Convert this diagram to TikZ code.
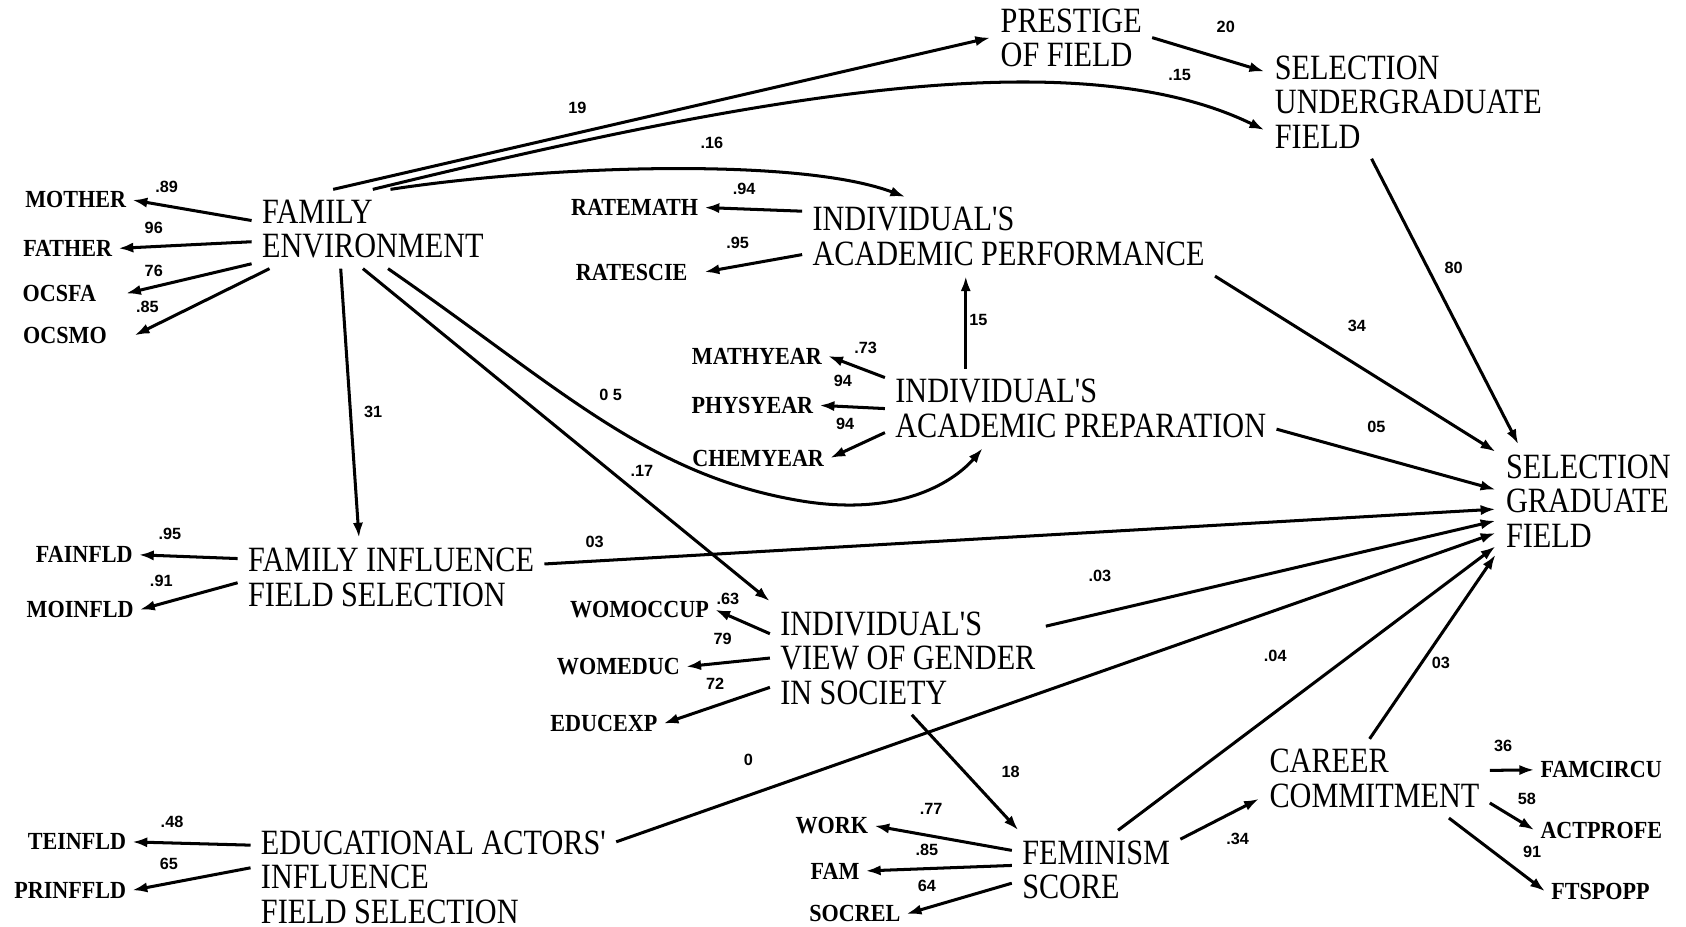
\documentclass[tikz,border=0pt]{standalone}
\usepackage{fontspec}
\setmainfont{Liberation Serif}
\newfontfamily\boxfont[FakeStretch=0.85]{Liberation Serif}
\newfontfamily\indfont[FakeStretch=0.9]{Liberation Serif}
\newfontfamily\coeffont{Liberation Sans}
\usetikzlibrary{arrows.meta}

\begin{document}
\begin{tikzpicture}[
    x=0.01cm, y=-0.01cm,
    latent/.style={
        font=\boxfont\fontsize{9.4}{9.1}\selectfont,
        align=left,
        inner sep=0.9mm,
        anchor=west
    },
    indicator/.style={
        font=\indfont\bfseries\fontsize{6.5}{7}\selectfont,
        inner sep=0.5mm,
        anchor=east
    },
    coef/.style={
        font=\coeffont\bfseries\fontsize{4.3}{5}\selectfont,
        inner sep=0pt
    },
    arrow/.style={-{Latex[length=1.4mm,width=0.95mm]}, line width=0.8pt}
]
    \useasboundingbox (0,0) rectangle (1568,862);

    % latent constructs
    \node[latent] (famenv) at (234,213) {FAMILY\\ENVIRONMENT};
    \node[latent] (prestige) at (921,35) {PRESTIGE\\OF FIELD};
    \node[latent] (selug) at (1176,95) {SELECTION\\UNDERGRADUATE\\FIELD};
    \node[latent] (acperf) at (746,220) {INDIVIDUAL'S\\ACADEMIC PERFORMANCE};
    \node[latent] (acprep) at (823,380) {INDIVIDUAL'S\\ACADEMIC PREPARATION};
    \node[latent] (selgrad) at (1391,466) {SELECTION\\GRADUATE\\FIELD};
    \node[latent] (faminfl) at (221,537) {FAMILY INFLUENCE\\FIELD SELECTION};
    \node[latent] (gender) at (716,612) {INDIVIDUAL'S\\VIEW OF GENDER\\IN SOCIETY};
    \node[latent] (eduact) at (233,816) {EDUCATIONAL ACTORS'\\INFLUENCE\\FIELD SELECTION};
    \node[latent] (feminism) at (941,809) {FEMINISM\\SCORE};
    \node[latent] (career) at (1171,724) {CAREER\\COMMITMENT};

    % measured items
    \node[indicator] (mother) at (123,186) {MOTHER};
    \node[indicator] (father) at (110,231) {FATHER};
    \node[indicator] (ocsfa) at (95,273) {OCSFA};
    \node[indicator] (ocsmo) at (105,312) {OCSMO};
    \node[indicator] (ratemath) at (655,193) {RATEMATH};
    \node[indicator] (ratescie) at (645,253) {RATESCIE};
    \node[indicator] (mathyear) at (770,331) {MATHYEAR};
    \node[indicator] (physyear) at (762,377) {PHYSYEAR};
    \node[indicator] (chemyear) at (772,426) {CHEMYEAR};
    \node[indicator] (fainfld) at (129,516) {FAINFLD};
    \node[indicator] (moinfld) at (130,567) {MOINFLD};
    \node[indicator] (womoccup) at (665,567) {WOMOCCUP};
    \node[indicator] (womeduc) at (638,620) {WOMEDUC};
    \node[indicator] (educexp) at (617,673) {EDUCEXP};
    \node[indicator] (teinfld) at (123,783) {TEINFLD};
    \node[indicator] (prinffld) at (123,828) {PRINFFLD};
    \node[indicator] (work) at (813,768) {WORK};
    \node[indicator] (fam) at (805,810) {FAM};
    \node[indicator] (socrel) at (843,850) {SOCREL};
    \node[indicator, anchor=west] (famcircu) at (1427,716) {FAMCIRCU};
    \node[indicator, anchor=west] (actprofe) at (1427,772) {ACTPROFE};
    \node[indicator, anchor=west] (ftspopp) at (1437,829) {FTSPOPP};

    % path coefficients
    \node[coef] (c89) at (155,174) {.89};
    \node[coef] (c96) at (143,212) {96};
    \node[coef] (c76) at (143,252) {76};
    \node[coef] (c85a) at (137,285) {.85};
    \node[coef] (c19) at (537,100) {19};
    \node[coef] (c16) at (662,133) {.16};
    \node[coef] (c20) at (1140,25) {20};
    \node[coef] (c15a) at (1097,70) {.15};
    \node[coef] (c94a) at (692,176) {.94};
    \node[coef] (c95a) at (686,226) {.95};
    \node[coef] (c80) at (1352,249) {80};
    \node[coef] (c34a) at (1262,303) {34};
    \node[coef] (c15b) at (910,298) {15};
    \node[coef] (c73) at (805,324) {.73};
    \node[coef] (c94b) at (784,354) {94};
    \node[coef] (c94c) at (786,394) {94};
    \node[coef] (c05a) at (568,367) {0 5};
    \node[coef] (c17) at (597,438) {.17};
    \node[coef] (c31) at (347,383) {31};
    \node[coef] (c05b) at (1280,397) {05};
    \node[coef] (c95b) at (158,497) {.95};
    \node[coef] (c91a) at (150,540) {.91};
    \node[coef] (c03a) at (553,504) {03};
    \node[coef] (c03b) at (1023,536) {.03};
    \node[coef] (c63) at (677,557) {.63};
    \node[coef] (c79) at (672,594) {79};
    \node[coef] (c72) at (665,636) {72};
    \node[coef] (c04) at (1186,610) {.04};
    \node[coef] (c03c) at (1340,617) {03};
    \node[coef] (c0) at (696,707) {0};
    \node[coef] (c18) at (940,718) {18};
    \node[coef] (c48) at (160,764) {.48};
    \node[coef] (c65) at (157,803) {65};
    \node[coef] (c77) at (866,752) {.77};
    \node[coef] (c85b) at (862,790) {.85};
    \node[coef] (c64) at (862,824) {64};
    \node[coef] (c34b) at (1151,780) {.34};
    \node[coef] (c36) at (1398,694) {36};
    \node[coef] (c58) at (1420,743) {58};
    \node[coef] (c91b) at (1425,792) {91};

    % measurement arrows
    \draw[arrow] (famenv.176) -- (mother.east);
    \draw[arrow] (famenv.186) -- (father.east);
    \draw[arrow] (famenv.196) -- ([xshift=2.2mm]ocsfa.east);
    \draw[arrow] (famenv.201) -- ([xshift=2mm]ocsmo.east);
    \draw[arrow] (acperf.173) -- (ratemath.east);
    \draw[arrow] (acperf.185) -- ([xshift=1mm]ratescie.east);
    \draw[arrow] (acprep.171) -- (mathyear.east);
    \draw[arrow] (acprep.west) -- (physyear.east);
    \draw[arrow] (acprep.187) -- (chemyear.east);
    \draw[arrow] (faminfl.173) -- (fainfld.east);
    \draw[arrow] (faminfl.182) -- (moinfld.east);
    \draw[arrow] (gender.170) -- (womoccup.east);
    \draw[arrow] (gender.west) -- (womeduc.east);
    \draw[arrow] (gender.192) -- (educexp.east);
    \draw[arrow] (eduact.170) -- (teinfld.east);
    \draw[arrow] (eduact.177) -- (prinffld.east);
    \draw[arrow] (feminism.167) -- (work.east);
    \draw[arrow] (feminism.177) -- (fam.east);
    \draw[arrow] (feminism.189) -- (socrel.east);
    \draw[arrow] (career.4) -- (famcircu.west);
    \draw[arrow] (career.348) -- (actprofe.west);
    \draw[arrow] (career.332) -- (ftspopp.west);

    % structural paths
    \draw[arrow] (famenv.135) -- (prestige.west);
    \draw[arrow] (famenv.north) .. controls (700,90) and (1000,35) .. (selug.191);
    \draw[arrow] (famenv.66) .. controls (500,155) and (740,145) .. (acperf.159);
    \draw[arrow] (famenv.231) -- (faminfl.129);
    \draw[arrow] (famenv.256) -- (gender.north west);
    \draw[arrow] (famenv.291) .. controls (520,360) and (600,440) .. (740,465)
        .. controls (840,483) and (890,445) .. (acprep.202);
    \draw[arrow] (prestige.east) -- (selug.168);
    \draw[arrow] (selug.237) -- (selgrad.141);
    \draw[arrow] (acprep.161) -- (acprep.161 |- acperf.south);
    \draw[arrow] (acperf.south east) -- (selgrad.152);
    \draw[arrow] (acprep.354) -- (selgrad.173);
    \draw[arrow] (faminfl.5) -- (selgrad.185);
    \draw[arrow] (gender.13) -- (selgrad.192);
    \draw[arrow] (eduact.11) -- (selgrad.199);
    \draw[arrow] (feminism.61) -- (selgrad.206);
    \draw[arrow] (career.97) -- (selgrad.210);
    \draw[arrow] (gender.274) -- (feminism.153);
    \draw[arrow] (feminism.20) -- (career.190);
\end{tikzpicture}
\end{document}
